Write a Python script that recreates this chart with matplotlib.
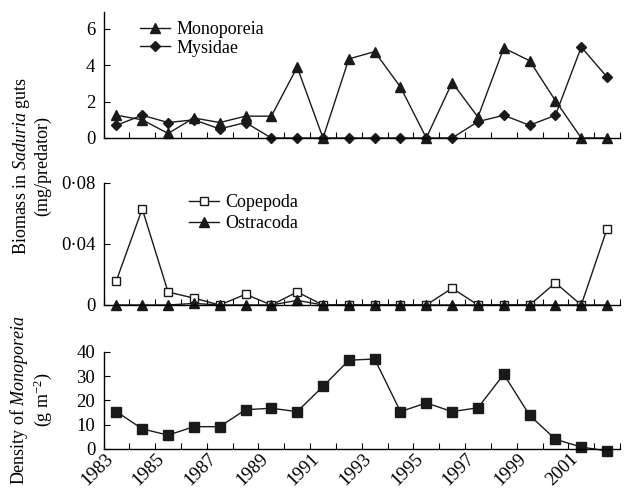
import numpy as np
import matplotlib
matplotlib.use('Agg')
import matplotlib.pyplot as plt

plt.rcParams['font.family'] = ['Liberation Serif', 'DejaVu Serif']
plt.rcParams['mathtext.fontset'] = 'custom'
plt.rcParams['mathtext.rm'] = 'Liberation Serif'
plt.rcParams['mathtext.it'] = 'Liberation Serif:italic'

years = list(range(1983, 2003))
year_labels = [str(y) if (y - 1983) % 2 == 0 else '' for y in years]

monoporeia = [1.25, 1.0, 0.25, 1.1, 0.85, 1.2, 1.2, 3.9, 0.0, 4.35,
              4.75, 2.8, 0.0, 3.05, 1.15, 4.95, 4.25, 2.05, 0.0, 0.0]
mysidae = [0.7, 1.25, 0.85, 1.0, 0.5, 0.85, 0.0, 0.0, 0.0, 0.0,
           0.0, 0.0, 0.0, 0.0, 0.9, 1.25, 0.7, 1.25, 5.0, 3.35]

copepoda = [0.016, 0.063, 0.0085, 0.0045, 0.0, 0.007, 0.0, 0.0085, 0.0, 0.0,
            0.0, 0.0, 0.0, 0.011, 0.0, 0.0, 0.0, 0.0145, 0.0, 0.05]
ostracoda = [0.0, 0.0, 0.0, 0.001, 0.0, 0.0, 0.0, 0.003, 0.0, 0.0,
             0.0, 0.0, 0.0, 0.0, 0.0, 0.0, 0.0, 0.0, 0.0, 0.0]

density = [15.4, 8.3, 5.7, 9.2, 9.2, 16.2, 16.8, 15.4, 25.8, 36.6,
           37.1, 15.4, 19.0, 15.4, 17.0, 30.8, 13.9, 4.0, 0.8, -0.8]


def style_axis(ax, ymax, yticks, ylabels, show_x=False):
    x = np.arange(len(years))
    ax.set_xlim(-0.5, len(years) - 0.5)
    ax.set_ylim(0, ymax)
    for s in ['top', 'right']:
        ax.spines[s].set_visible(False)
    ax.spines['left'].set_linewidth(1.0)
    ax.spines['bottom'].set_linewidth(1.0)
    ax.set_xticks(np.arange(len(years) + 1) - 0.5)
    ax.set_xticklabels([])
    ax.set_xticks(x, minor=True)
    ax.tick_params(axis='x', which='major', direction='in', length=4, width=0.8)
    ax.tick_params(axis='x', which='minor', length=0, labelsize=13.5, pad=1)
    if show_x:
        ax.set_xticklabels(year_labels, minor=True, rotation=45, ha='right')
    ax.set_yticks(yticks)
    ax.set_yticklabels(ylabels)
    ax.tick_params(axis='y', direction='in', length=4, width=0.8, labelsize=13.5, pad=6)


fig = plt.figure(figsize=(6.25, 4.9), dpi=100)
left, width = 0.1656, 0.8264
ax1 = fig.add_axes([left, 0.7184, width, 0.2571])
ax2 = fig.add_axes([left, 0.3776, width, 0.249])
ax3 = fig.add_axes([left, 0.0837, width, 0.198])

x = np.arange(len(years))
kw = dict(color='#1a1a1a', linewidth=1.0, clip_on=False)

ax1.plot(x, monoporeia, marker='^', markersize=7, label='Monoporeia', **kw)
ax1.plot(x, mysidae, marker='D', markersize=5, label='Mysidae', **kw)
style_axis(ax1, 6.93, [0, 2, 4, 6], ['0', '2', '4', '6'])
ax1.legend(loc='upper left', bbox_to_anchor=(0.07, 0.93), frameon=False,
           fontsize=13, borderpad=0, borderaxespad=0, handlelength=1.7,
           handletextpad=0.35, labelspacing=0.1)

ax2.plot(x, copepoda, marker='s', markersize=6, markerfacecolor='white',
         markeredgewidth=1.0, label='Copepoda', **kw)
ax2.plot(x, ostracoda, marker='^', markersize=7, label='Ostracoda', **kw)
style_axis(ax2, 0.08, [0, 0.04, 0.08], ['0', '0\u00b704', '0\u00b708'])
ax2.legend(loc='upper left', bbox_to_anchor=(0.165, 0.91), frameon=False,
           fontsize=13, borderpad=0, borderaxespad=0, handlelength=1.7,
           handletextpad=0.35, labelspacing=0.25)

ax3.plot(x, density, marker='s', markersize=7, **kw)
style_axis(ax3, 40, [0, 10, 20, 30, 40], ['0', '10', '20', '30', '40'], show_x=True)

fig.text(31 / 625, 1 - 166 / 490,
         'Biomass in $\\mathit{Saduria}$ guts\n(mg/predator)',
         rotation=90, ha='center', va='center', fontsize=13,
         multialignment='center', linespacing=1.1)
fig.text(31 / 625, 1 - 400 / 490,
         'Density of $\\mathit{Monoporeia}$\n(g m$^{-2}$)',
         rotation=90, ha='center', va='center', fontsize=13,
         multialignment='center', linespacing=1.1)

plt.savefig('out.png', dpi=100)
